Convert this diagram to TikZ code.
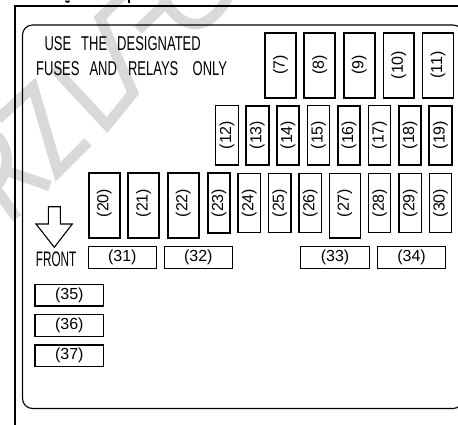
\documentclass[tikz,border=0pt]{standalone}
\usepackage{graphicx}
\usepackage{fontspec}
\setmainfont{Liberation Sans}
\definecolor{wm}{gray}{0.85}
\tikzset{
  frameline/.style={line width=2pt,black},
  panelline/.style={line width=1.1pt,black,rounded corners=10pt},
  wmline/.style={wm,line width=10.5pt,line join=miter},
  fusebase/.style={draw=black,fill=white,inner sep=0pt,outer sep=0pt},
  heavybox/.style={fusebase,line width=1.8pt},
  midbox/.style={fusebase,line width=1.35pt},
  lightbox/.style={fusebase,line width=1.05pt},
  numtext/.style={inner sep=0pt,font=\fontsize{16}{16}\selectfont},
  signtext/.style={anchor=base west,inner sep=0pt,font=\fontsize{20}{20}\selectfont},
  arrowshape/.style={draw=black,fill=white,line width=1.1pt,line join=miter}
}
\newcommand{\fuseV}[8]{% name x1 y1 x2 y2 style label labely
  \node[#6,minimum width=#4pt-#2pt,minimum height=#5pt-#3pt] (#1) at ({(#2+#4)/2},{(#3+#5)/2}) {};
  \node[numtext,rotate=90] (#1t) at ({(#2+#4)/2},#8) {#7};
}
\newcommand{\fuseH}[6]{% name x1 y1 x2 y2 label
  \node[midbox,minimum width=#4pt-#2pt,minimum height=#5pt-#3pt] (#1) at ({(#2+#4)/2},{(#3+#5)/2}) {};
  \node[numtext] (#1t) at ({(#2+#4)/2},{(#3+#5)/2}) {#6};
}
\begin{document}
\begin{tikzpicture}[x=1pt,y=-1pt]
\useasboundingbox (0,0) rectangle (458,424);
\clip (0,0) rectangle (458,424);
% watermark
\draw[wmline] (-2,119) -- (33,87) -- (58,172) -- (88,142);
\draw[wmline] (54,68) -- (107,125) -- (133,93) -- (100,18) -- (122,-4);
\draw[wmline] (138,30) -- (165,4);
\draw[wmline] (-3,136) .. controls (8,148) and (12,165) .. (-3,186);
\draw[wmline] (4,170) -- (50,186);
\draw[wmline] (-3,190) -- (17,218);
\draw[wmline] (163,-3) .. controls (172,14) and (182,24) .. (196,24) .. controls (208,24) and (220,12) .. (228,-3);
% frames
\draw[frameline] (14.5,426) -- (14.5,5.5) -- (460,5.5);
\draw[panelline] (22.5,408.5) rectangle (463,25);
% clipped title descenders
\fill[black] (65,0.5) -- (70,0.5) -- (69,2.6) -- (66,2.6) -- cycle;
\fill[black] (128,0) rectangle (130,2.6);
% sign
\node[signtext] (sign1) at (44.3,50) {\scalebox{.65}[1]{USE\hspace{15.4pt}THE\hspace{15.4pt}DESIGNATED}};
\node[signtext] (sign2) at (36,75) {\scalebox{.65}[1]{FUSES\hspace{15.4pt}AND\hspace{17pt}RELAYS\hspace{22pt}ONLY}};
% top row
\fuseV{b7}{265}{33}{296}{98}{heavybox}{(7)}{65}
\fuseV{b8}{304}{33}{335.3}{98}{heavybox}{(8)}{65}
\fuseV{b9}{343.7}{33}{375}{98}{heavybox}{(9)}{65}
\fuseV{b10}{383.3}{33}{414}{98}{lightbox}{(10)}{65}
\fuseV{b11}{422.7}{33}{453.3}{98}{lightbox}{(11)}{65}
% second row
\fuseV{b12}{215.7}{105.7}{238.3}{165}{lightbox}{(12)}{135}
\fuseV{b13}{246}{105.7}{268.7}{165}{heavybox}{(13)}{135}
\fuseV{b14}{276.7}{105.7}{299.3}{165}{heavybox}{(14)}{135}
\fuseV{b15}{307.3}{105.7}{329.7}{165}{midbox}{(15)}{135}
\fuseV{b16}{337.7}{105.7}{360.3}{165}{heavybox}{(16)}{135}
\fuseV{b17}{368.3}{105.7}{390.7}{165}{midbox}{(17)}{135}
\fuseV{b18}{398.7}{105.7}{421.3}{165}{heavybox}{(18)}{135}
\fuseV{b19}{429.3}{105.7}{451.7}{165}{heavybox}{(19)}{135}
% third row
\fuseV{b20}{88.7}{173.3}{119.7}{238}{heavybox}{(20)}{203}
\fuseV{b21}{127.7}{173.3}{159.3}{238}{heavybox}{(21)}{203}
\fuseV{b22}{167.7}{173.3}{198.7}{238}{heavybox}{(22)}{203}
\fuseV{b23}{207.7}{173.3}{230.3}{233}{heavybox}{(23)}{203}
\fuseV{b24}{238}{173.3}{260.3}{232.7}{lightbox}{(24)}{203}
\fuseV{b25}{268.3}{173.3}{291}{232.7}{midbox}{(25)}{203}
\fuseV{b26}{299}{173.3}{321.3}{232.7}{midbox}{(26)}{203}
\fuseV{b27}{329.3}{173.3}{360.3}{238}{midbox}{(27)}{203}
\fuseV{b28}{368.7}{173.3}{390.7}{232.7}{midbox}{(28)}{203}
\fuseV{b29}{399}{173.3}{421.3}{232.7}{midbox}{(29)}{203}
\fuseV{b30}{429.3}{173.3}{451.7}{232.7}{midbox}{(30)}{203}
% arrow and FRONT
\draw[arrowshape] (48.3,206.7) -- (60.3,206.7) -- (60.3,224) -- (72.3,224) -- (54.3,247.3) -- (36,224) -- (48.3,224) -- cycle;
\node[signtext,font=\fontsize{21}{21}\selectfont] (front) at (35.7,266) {\scalebox{.56}[1]{FRONT}};
% wide fuses
\fuseH{b31}{88.3}{246.7}{156.3}{268.3}{(31)}
\fuseH{b32}{164.3}{246.7}{232.3}{268.3}{(32)}
\fuseH{b33}{300.7}{246.7}{369.3}{268.3}{(33)}
\fuseH{b34}{377.3}{246.7}{445.7}{268.3}{(34)}
\fuseH{b35}{35}{284.3}{103.7}{306}{(35)}
\fuseH{b36}{35}{314.7}{103.7}{336.3}{(36)}
\fuseH{b37}{35}{345}{103.7}{366.7}{(37)}
\end{tikzpicture}
\end{document}
